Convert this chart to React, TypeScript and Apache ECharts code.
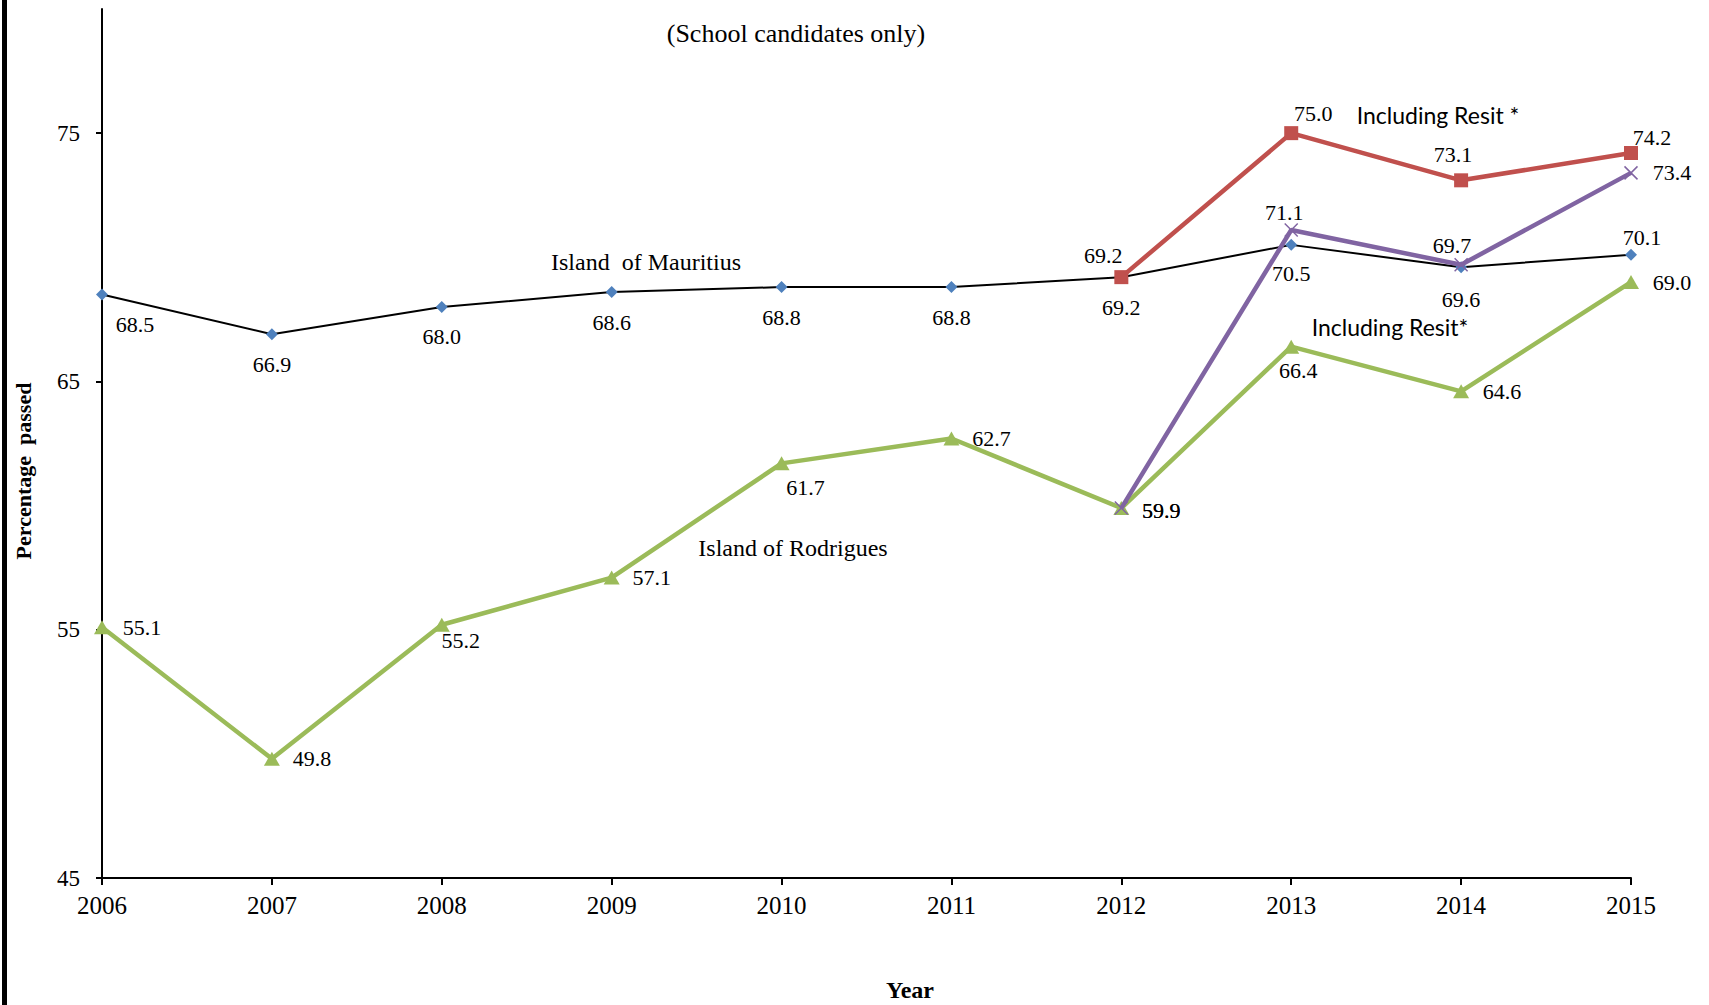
import React, { useEffect, useRef } from "react";
import * as echarts from "echarts";

const years = ["2006", "2007", "2008", "2009", "2010", "2011", "2012", "2013", "2014", "2015"];
const mauritius = [68.5, 66.9, 68.0, 68.6, 68.8, 68.8, 69.2, 70.5, 69.6, 70.1];
const mauritiusResit = [null, null, null, null, null, null, 69.2, 75.0, 73.1, 74.2];
const rodrigues = [55.1, 49.8, 55.2, 57.1, 61.7, 62.7, 59.9, 66.4, 64.6, 69.0];
const rodriguesResit = [null, null, null, null, null, null, 59.9, 71.1, 69.7, 73.4];
const yTicks = [45, 55, 65, 75];

// label offsets (layout only)
const offM = [[33, 30], [0, 30], [0, 30], [0, 30], [0, 30], [0, 30], [0, 30], [0, 29], [0, 32], [11, -17]];
const offMR = [[0, 0], [0, 0], [0, 0], [0, 0], [0, 0], [0, 0], [-18, -22], [22, -20], [-8, -26], [21, -16]];
const offR = [[40, 0], [40, 0], [19, 16], [40, 0], [24, 24], [40, 0], [40, 2], [7, 24], [41, 0], [41, 0]];
const offRR = [[0, 0], [0, 0], [0, 0], [0, 0], [0, 0], [0, 0], [40, 2], [-7, -17], [-9, -19], [41, 0]];

const SERIF = "Liberation Serif";
const SANS = "Lato";

function buildData(vals: (number | null)[], offs: number[][]) {
  return vals.map((v, i) =>
    v === null ? "-" : { value: v, label: { offset: offs[i] } }
  );
}

export default function App() {
  const ref = useRef<HTMLDivElement>(null);
  useEffect(() => {
    if (!ref.current) return;
    const chart = echarts.init(ref.current, null, { renderer: "svg" });
    const labelBase = {
      show: true,
      position: "inside",
      fontFamily: SERIF,
      fontSize: 22,
      color: "#000",
      formatter: (p: any) => Number(p.value).toFixed(1),
    };
    chart.setOption({
      animation: false,
      backgroundColor: "#fff",
      textStyle: { fontFamily: SERIF },
      grid: { left: 102, right: 78, top: 9, bottom: 127, containLabel: false },
      xAxis: {
        type: "category",
        data: years,
        boundaryGap: false,
        axisLine: { show: true, lineStyle: { color: "#000", width: 2 } },
        axisTick: { show: true, alignWithLabel: true, length: 7, lineStyle: { color: "#000", width: 2 } },
        axisLabel: { color: "#000", fontFamily: SERIF, fontSize: 25, margin: 15 },
        splitLine: { show: false },
      },
      yAxis: {
        type: "value",
        min: 45,
        max: 80,
        interval: 5,
        axisLine: { show: true, lineStyle: { color: "#000", width: 2 } },
        axisTick: { show: true, length: 6, customValues: yTicks, lineStyle: { color: "#000", width: 2 } },
        axisLabel: { color: "#000", fontFamily: SERIF, fontSize: 23, margin: 22, customValues: yTicks },
        splitLine: { show: false },
      },
      graphic: [
        { type: "rect", shape: { x: 2, y: 0, width: 5, height: 1005 }, style: { fill: "#000" } },
        {
          type: "text", x: 796, y: 33,
          style: { text: "(School candidates only)", fontFamily: SERIF, fontSize: 26, fill: "#000", align: "center", verticalAlign: "middle" },
        },
        {
          type: "text", x: 646, y: 262,
          style: { text: "Island  of Mauritius", fontFamily: SERIF, fontSize: 24, fill: "#000", align: "center", verticalAlign: "middle" },
        },
        {
          type: "text", x: 793, y: 548,
          style: { text: "Island of Rodrigues", fontFamily: SERIF, fontSize: 24, fill: "#000", align: "center", verticalAlign: "middle" },
        },
        {
          type: "text", x: 1438, y: 115,
          style: { text: "Including Resit *", fontFamily: SANS, fontSize: 23, fill: "#000", align: "center", verticalAlign: "middle" },
        },
        {
          type: "text", x: 1390, y: 327,
          style: { text: "Including Resit*", fontFamily: SANS, fontSize: 23, fill: "#000", align: "center", verticalAlign: "middle" },
        },
        {
          type: "text", x: 23, y: 471, rotation: Math.PI / 2,
          style: { text: "Percentage  passed", fontFamily: SERIF, fontWeight: "bold", fontSize: 22, fill: "#000", align: "center", verticalAlign: "middle" },
        },
        {
          type: "text", x: 910, y: 990,
          style: { text: "Year", fontFamily: SERIF, fontWeight: "bold", fontSize: 24, fill: "#000", align: "center", verticalAlign: "middle" },
        },
      ],
      series: [
        {
          name: "Island of Mauritius",
          type: "line",
          data: buildData(mauritius, offM),
          symbol: "diamond",
          symbolSize: 12,
          lineStyle: { color: "#000", width: 2 },
          itemStyle: { color: "#4F81BD" },
          label: labelBase,
          z: 2,
        },
        {
          name: "Island of Rodrigues",
          type: "line",
          data: buildData(rodrigues, offR),
          symbol: "triangle",
          symbolSize: [16, 14],
          lineStyle: { color: "#9BBB59", width: 4.5 },
          itemStyle: { color: "#9BBB59" },
          label: labelBase,
          z: 3,
        },
        {
          name: "Mauritius including resit",
          type: "line",
          data: buildData(mauritiusResit, offMR),
          symbol: "rect",
          symbolSize: 14,
          lineStyle: { color: "#C0504D", width: 4.5 },
          itemStyle: { color: "#C0504D" },
          label: labelBase,
          z: 4,
        },
        {
          name: "Rodrigues including resit",
          type: "line",
          data: buildData(rodriguesResit, offRR),
          symbol: "path://M0,0L10,10M10,0L0,10",
          symbolSize: 13,
          lineStyle: { color: "#8064A2", width: 4.5 },
          itemStyle: { color: "none", borderColor: "#8064A2", borderWidth: 1.5 },
          label: labelBase,
          z: 5,
        },
      ],
    });
    return () => chart.dispose();
  }, []);
  return (
    <div
      ref={ref}
      style={{ position: "fixed", left: 0, top: 0, width: 1709, height: 1005, background: "#fff" }}
    />
  );
}
